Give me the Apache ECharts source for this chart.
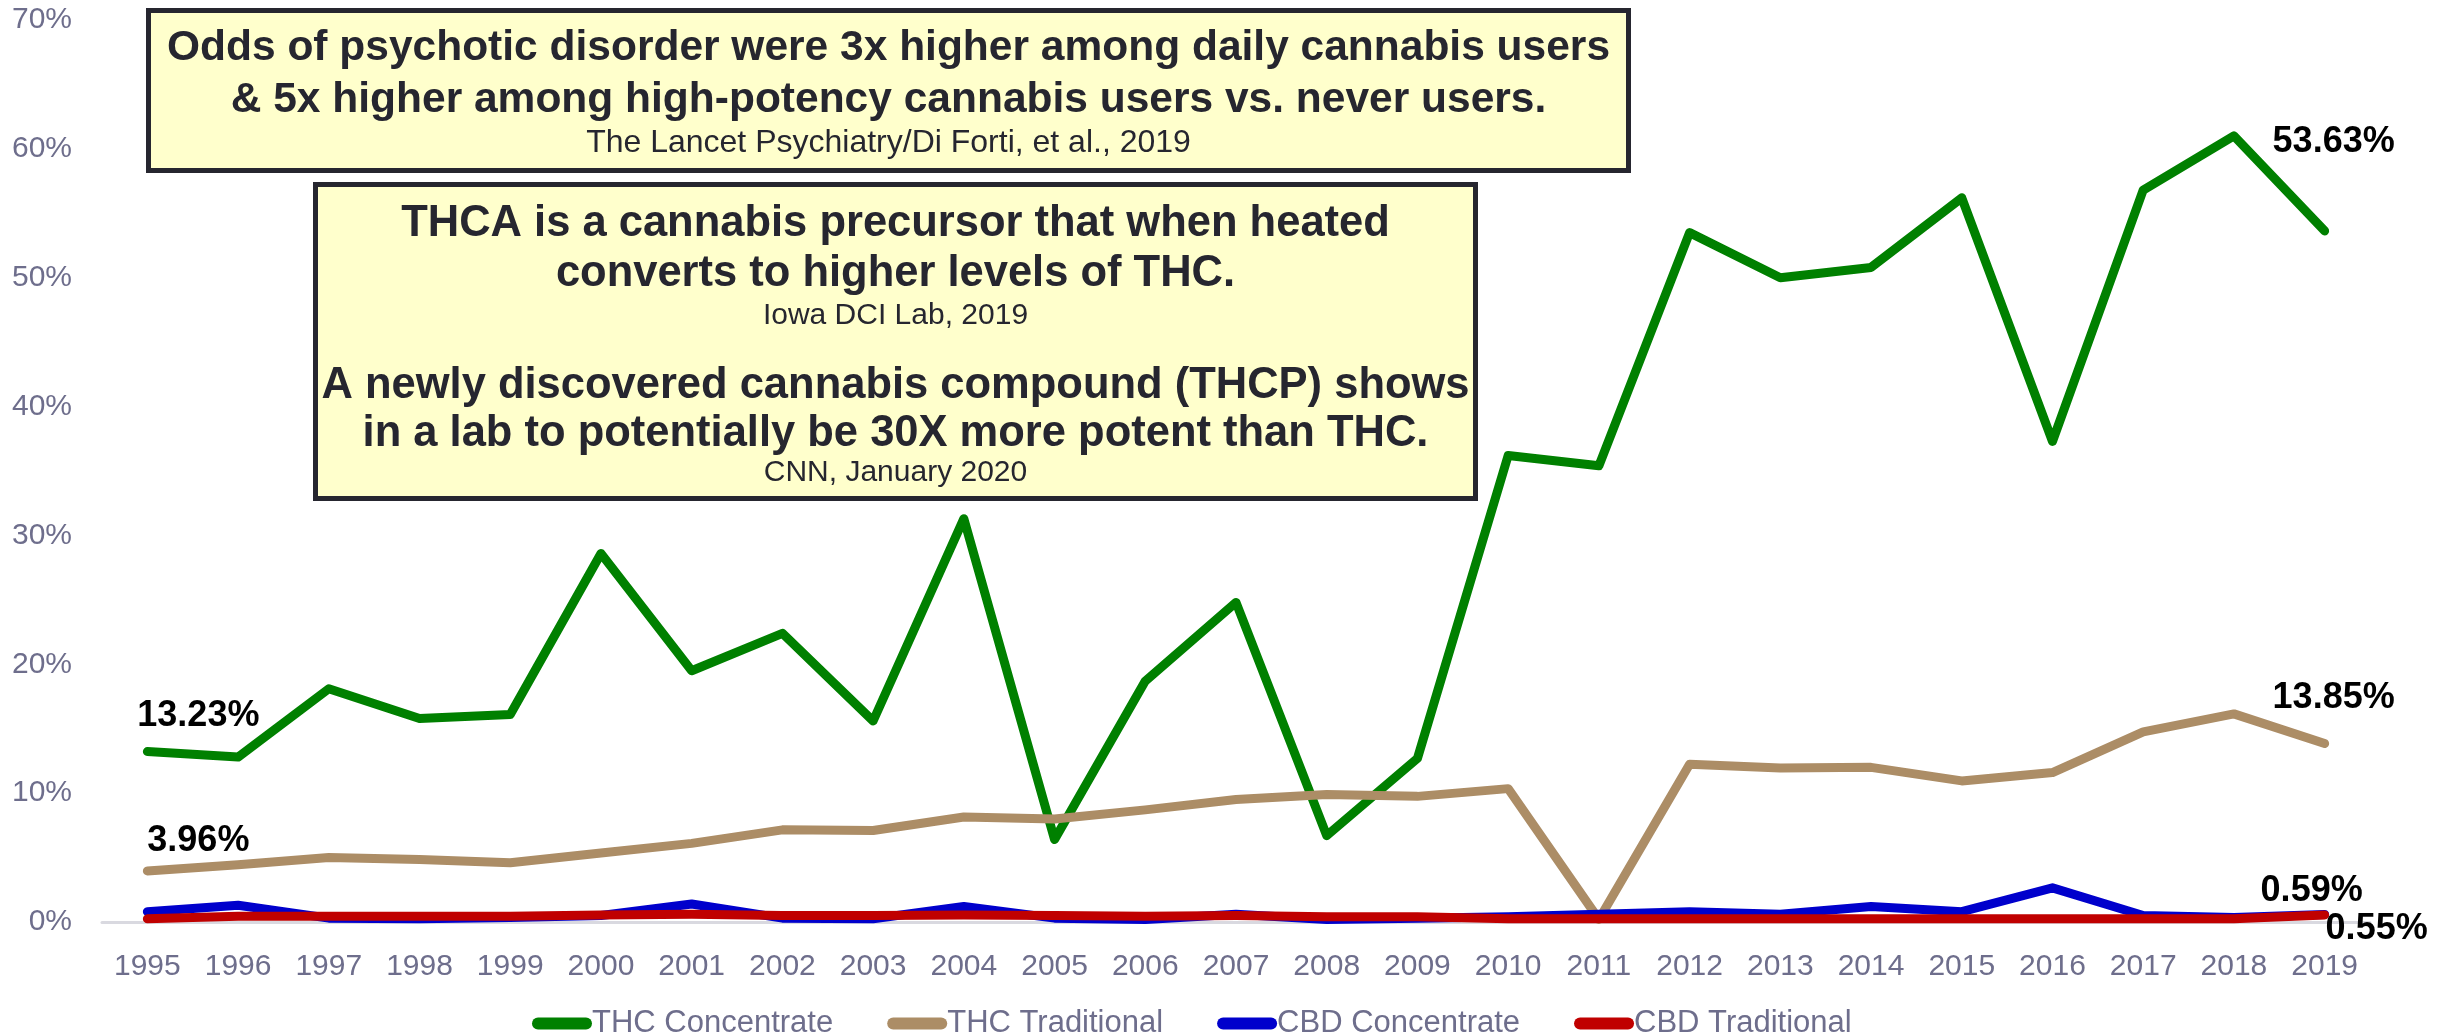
<!DOCTYPE html>
<html>
<head>
<meta charset="utf-8">
<script src="https://cdn.jsdelivr.net/npm/echarts@6/dist/echarts.min.js"></script>
<style>
html,body{margin:0;padding:0;background:#fff;}
#chart{width:2442px;height:1035px;}
</style>
</head>
<body>
<div id="chart"></div>
<script>
var years = ['1995','1996','1997','1998','1999','2000','2001','2002','2003','2004','2005','2006','2007','2008','2009','2010','2011','2012','2013','2014','2015','2016','2017','2018','2019'];
var thcConcentrate = [13.23,12.8,18.1,15.8,16.1,28.6,19.5,22.4,15.6,31.3,6.4,18.7,24.8,6.7,12.7,36.2,35.4,53.5,50.0,50.8,56.2,37.3,56.8,61.0,53.63];
var thcTraditional = [3.96,4.45,5.0,4.85,4.6,5.35,6.1,7.15,7.1,8.15,8.0,8.7,9.5,9.9,9.75,10.35,0.2,12.25,11.95,12.0,10.95,11.6,14.75,16.15,13.85];
var cbdConcentrate = [0.8,1.3,0.3,0.25,0.35,0.5,1.4,0.3,0.25,1.2,0.3,0.2,0.6,0.2,0.3,0.4,0.6,0.8,0.6,1.2,0.8,2.65,0.5,0.35,0.59];
var cbdTraditional = [0.25,0.45,0.45,0.45,0.45,0.55,0.6,0.5,0.5,0.55,0.5,0.45,0.5,0.4,0.4,0.25,0.25,0.25,0.25,0.25,0.25,0.25,0.25,0.25,0.55];
var seriesNames = ['THC Concentrate','THC Traditional','CBD Concentrate','CBD Traditional'];
var yTicks = [0,10,20,30,40,50,60,70];
var box1Lines = ['Odds of psychotic disorder were 3x higher among daily cannabis users','& 5x higher among high-potency cannabis users vs. never users.','The Lancet Psychiatry/Di Forti, et al., 2019'];
var box2Lines = ['THCA is a cannabis precursor that when heated','converts to higher levels of THC.','Iowa DCI Lab, 2019','A newly discovered cannabis compound (THCP) shows','in a lab to potentially be 30X more potent than THC.','CNN, January 2020'];

var FONT = '"Liberation Sans", Arial, sans-serif';
var colors = ['#008000','#AC8D66','#0000CC','#C00000'];
var labelStyle = {show:true, position:'inside', align:'center', verticalAlign:'middle', fontFamily:FONT, fontSize:36, fontWeight:'bold', color:'#000',
  formatter:function(p){return p.value.toFixed(2)+'%';}};

function withLabels(arr, marks){
  return arr.map(function(v,i){
    if(marks[i]){ return {value:v, label:Object.assign({}, labelStyle, {offset:marks[i]})}; }
    return {value:v};
  });
}
var last = years.length-1;
var m1 = {}; m1[0]=[51,-35]; m1[last]=[9,-89];
var m2 = {}; m2[0]=[51,-30]; m2[last]=[9,-45];
var m3 = {}; m3[last]=[-13,-23];
var m4 = {}; m4[last]=[52,14];
var marks = [m1,m2,m3,m4];
var dataArr = [thcConcentrate, thcTraditional, cbdConcentrate, cbdTraditional];

var series = dataArr.map(function(arr,k){
  return {
    name: seriesNames[k], type:'line', data: withLabels(arr, marks[k]),
    symbol:'circle', symbolSize:1, showSymbol:true, showAllSymbol:true,
    itemStyle:{color:colors[k]},
    lineStyle:{color:colors[k], width:9, cap:'round', join:'round'},
    label:{show:false},
    animation:false, z: 2+k
  };
});

function boxGraphic(x,y,w,h,lines,ys,sizes,weights){
  var children = [{type:'rect', shape:{x:x,y:y,width:w,height:h}, style:{fill:'#FFFFCC', stroke:'#26262F', lineWidth:5}}];
  lines.forEach(function(t,i){
    children.push({type:'text', x:x+w/2, y:ys[i], style:{text:t, fill:'#26262F', font: weights[i]+' '+sizes[i]+'px '+FONT, textAlign:'center', textVerticalAlign:'middle'}});
  });
  return {type:'group', z:100, children:children};
}

var chart = echarts.init(document.getElementById('chart'), null, {renderer:'canvas'});
chart.setOption({
  backgroundColor:'#fff',
  animation:false,
  color: colors,
  grid:{left:102, right:72, top:20, bottom:113, containLabel:false},
  legend:{
    data: seriesNames, left:527, top:1003, itemWidth:60, itemHeight:12, itemGap:54,
    icon:'path://M6,0 L54,0 A6,6 0 0 1 54,12 L6,12 A6,6 0 0 1 6,0 Z',
    textStyle:{fontFamily:FONT, fontSize:31, color:'#6E6E8C', padding:[0,0,0,-5]}
  },
  xAxis:{
    type:'category', data:years, boundaryGap:true,
    axisLine:{show:true, lineStyle:{color:'#D9D9E0', width:3}},
    axisTick:{show:false},
    axisLabel:{fontFamily:FONT, fontSize:30, color:'#6E6E8C', margin:30, interval:0}
  },
  yAxis:{
    type:'value', min:0, max:70, interval:10,
    axisLine:{show:false}, axisTick:{show:false}, splitLine:{show:false},
    axisLabel:{fontFamily:FONT, fontSize:30, color:'#6E6E8C', margin:30, formatter:function(v){return v+'%';}}
  },
  series: series,
  graphic: [
    boxGraphic(148.5,10.5,1480,160, box1Lines,[48,100,143],[42.5,42.5,32],['bold','bold','normal']),
    boxGraphic(315.5,184.5,1160,314, box2Lines,[224,274,316,386,434,473],[43.5,43.5,30,43.5,43.5,30],['bold','bold','normal','bold','bold','normal'])
  ]
});
</script>
</body>
</html>
